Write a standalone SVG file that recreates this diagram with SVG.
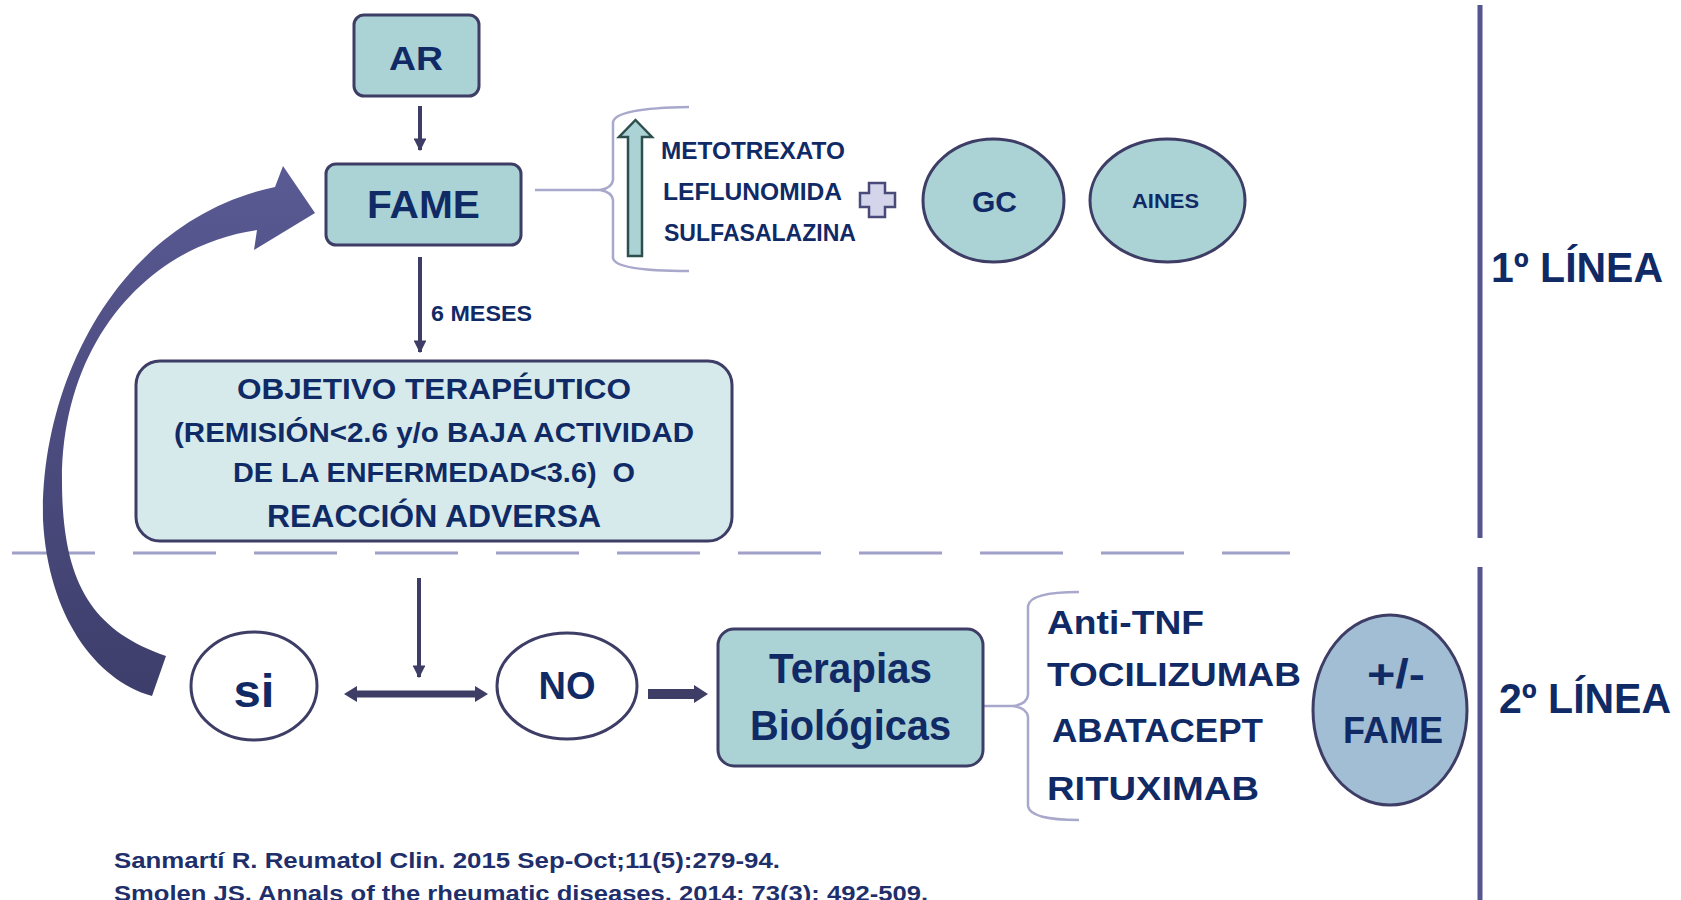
<svg xmlns="http://www.w3.org/2000/svg" width="1681" height="900" viewBox="0 0 1681 900">
<style>
text{font-family:"Liberation Sans",Arial,sans-serif;font-weight:bold;fill:#102a66}
.box{fill:#abd2d5;stroke:#3d3d66;stroke-width:3}
.obj{fill:#d6eaec;stroke:#3d3d66;stroke-width:3}
.circ{fill:#fff;stroke:#3d3d66;stroke-width:3}
.brace{fill:none;stroke:#a8a8cc;stroke-width:2.5}
.conn{stroke:#3d3d66;stroke-width:4;fill:none}
.solid{fill:#3d3d66}
.mid{text-anchor:middle}
</style>
<defs>
<marker id="ah" viewBox="0 0 10 10" refX="9" refY="5" markerWidth="3.2" markerHeight="3.2" orient="auto" markerUnits="strokeWidth">
<path d="M0,0 L10,5 L0,10 Z" fill="#3d3d66"/>
</marker>
<linearGradient id="cg" x1="0" y1="0" x2="0" y2="1">
<stop offset="0" stop-color="#5a5a94"/>
<stop offset="1" stop-color="#3e3e6c"/>
</linearGradient>
</defs>
<rect width="1681" height="900" fill="#fff"/>

<!-- separators -->
<g id="separators">
<line x1="12" y1="553" x2="1290" y2="553" stroke="#a0a0c8" stroke-width="3" stroke-dasharray="83 38"/>
<line x1="1480" y1="5" x2="1480" y2="538" stroke="#555590" stroke-width="5"/>
<line x1="1480" y1="567" x2="1480" y2="900" stroke="#555590" stroke-width="5"/>
<text x="1491" y="282" font-size="42" textLength="172" lengthAdjust="spacingAndGlyphs">1º LÍNEA</text>
<text x="1499" y="713" font-size="42" textLength="172" lengthAdjust="spacingAndGlyphs">2º LÍNEA</text>
</g>

<!-- connectors -->
<g id="connectors">
<line class="conn" x1="420" y1="106" x2="420" y2="150" marker-end="url(#ah)"/>
<line class="conn" x1="420" y1="257" x2="420" y2="352" marker-end="url(#ah)"/>
<text x="431" y="321" font-size="22" textLength="101" lengthAdjust="spacingAndGlyphs">6 MESES</text>
<line class="conn" x1="419" y1="578" x2="419" y2="677" marker-end="url(#ah)"/>
<path class="solid" d="M344,694 L357,686 L357,690.5 L475,690.5 L475,686 L488,694 L475,702 L475,697.5 L357,697.5 L357,702 Z"/>
<path class="solid" d="M648,689 L694,689 L694,685 L708,694 L694,703 L694,699 L648,699 Z"/>
<path fill="url(#cg)" d="M152,696 C95,680 48,615 43,520 C40,380 120,220 275,187 L283,166 L315,213 L254,250 L257,230 C150,245 62,340 62,480 C62,580 90,630 166,656 Z"/>
<path class="brace" d="M535,190 L600,190"/>
<path class="brace" d="M689,107 Q616,108 613,122 L613,180 Q612,188 600,190 Q612,192 613,200 L613,258 Q615,271 689,271"/>
<path class="brace" d="M983,706 L1013,706"/>
<path class="brace" d="M1079,592 Q1030,592 1028,606 L1028,695 Q1027,704 1013,706 Q1027,708 1028,717 L1028,806 Q1030,820 1079,820"/>
</g>

<g id="node-ar">
<rect class="box" x="354" y="15" width="125" height="81" rx="10"/>
<text class="mid" x="416" y="70" font-size="34" textLength="54" lengthAdjust="spacingAndGlyphs">AR</text>
</g>

<g id="node-fame">
<rect class="box" x="326" y="164" width="195" height="81" rx="10"/>
<text class="mid" x="423.5" y="218" font-size="38" textLength="113" lengthAdjust="spacingAndGlyphs">FAME</text>
</g>

<g id="node-fame-list">
<path d="M635.5,120 L652,137 L642,137 L642,256 L628,256 L628,137 L619,137 Z" fill="#abd2d5" stroke="#2f4f4f" stroke-width="2.5" stroke-linejoin="miter"/>
<text x="661" y="159" font-size="24" textLength="184" lengthAdjust="spacingAndGlyphs">METOTREXATO</text>
<text x="663" y="200" font-size="24" textLength="179" lengthAdjust="spacingAndGlyphs">LEFLUNOMIDA</text>
<text x="664" y="241" font-size="24" textLength="192" lengthAdjust="spacingAndGlyphs">SULFASALAZINA</text>
<path d="M869,183 L885,183 L885,193 L895,193 L895,207 L885,207 L885,217 L869,217 L869,207 L860,207 L860,193 L869,193 Z" fill="#d4d4ea" stroke="#4a4a78" stroke-width="2.5"/>
</g>

<g id="node-gc">
<ellipse class="box" cx="993.5" cy="200.5" rx="70.5" ry="61.5"/>
<text class="mid" x="994.5" y="212" font-size="30" textLength="45" lengthAdjust="spacingAndGlyphs">GC</text>
</g>

<g id="node-aines">
<ellipse class="box" cx="1167.5" cy="200.5" rx="77.5" ry="61.5"/>
<text class="mid" x="1165.5" y="208" font-size="20" textLength="67" lengthAdjust="spacingAndGlyphs">AINES</text>
</g>

<g id="node-objetivo">
<rect class="obj" x="136" y="361" width="596" height="180" rx="24"/>
<text x="237" y="399" font-size="29" textLength="394" lengthAdjust="spacingAndGlyphs">OBJETIVO TERAPÉUTICO</text>
<text x="174" y="442" font-size="27" textLength="520" lengthAdjust="spacingAndGlyphs">(REMISIÓN&lt;2.6 y/o BAJA ACTIVIDAD</text>
<text x="233" y="482" font-size="27" textLength="402" lengthAdjust="spacingAndGlyphs" xml:space="preserve">DE LA ENFERMEDAD&lt;3.6)  O</text>
<text x="267" y="527" font-size="32" textLength="334" lengthAdjust="spacingAndGlyphs">REACCIÓN ADVERSA</text>
</g>

<g id="node-si">
<ellipse class="circ" cx="254" cy="686" rx="63" ry="54"/>
<text class="mid" x="254" y="707" font-size="46" textLength="41" lengthAdjust="spacingAndGlyphs">si</text>
</g>

<g id="node-no">
<ellipse class="circ" cx="567" cy="686" rx="70" ry="53"/>
<text class="mid" x="567" y="699" font-size="38" textLength="57" lengthAdjust="spacingAndGlyphs">NO</text>
</g>

<g id="node-terapias">
<rect class="box" x="718" y="629" width="265" height="137" rx="16"/>
<text class="mid" x="850.5" y="683" font-size="43" textLength="163" lengthAdjust="spacingAndGlyphs">Terapias</text>
<text class="mid" x="850.5" y="740" font-size="43" textLength="201" lengthAdjust="spacingAndGlyphs">Biológicas</text>
</g>

<g id="node-bio-list">
<text x="1047" y="634" font-size="33" textLength="157" lengthAdjust="spacingAndGlyphs">Anti-TNF</text>
<text x="1047" y="686" font-size="33" textLength="254" lengthAdjust="spacingAndGlyphs">TOCILIZUMAB</text>
<text x="1052" y="742" font-size="33" textLength="211" lengthAdjust="spacingAndGlyphs">ABATACEPT</text>
<text x="1047" y="800" font-size="33" textLength="212" lengthAdjust="spacingAndGlyphs">RITUXIMAB</text>
</g>

<g id="node-fame2">
<ellipse cx="1390" cy="710" rx="77" ry="95" fill="#a1bed4" stroke="#3d3d66" stroke-width="3"/>
<text class="mid" x="1396" y="688" font-size="40" textLength="58" lengthAdjust="spacingAndGlyphs">+/-</text>
<text class="mid" x="1393" y="743" font-size="36" textLength="100" lengthAdjust="spacingAndGlyphs">FAME</text>
</g>

<g id="references">
<text x="114" y="868" font-size="22" font-weight="normal" textLength="666" lengthAdjust="spacingAndGlyphs" style="font-weight:bold;fill:#1f2f6b">Sanmartí R. Reumatol Clin. 2015 Sep-Oct;11(5):279-94.</text>
<text x="114" y="901" font-size="22" textLength="814" lengthAdjust="spacingAndGlyphs" style="fill:#1f2f6b">Smolen JS. Annals of the rheumatic diseases. 2014; 73(3): 492-509.</text>
</g>
</svg>
